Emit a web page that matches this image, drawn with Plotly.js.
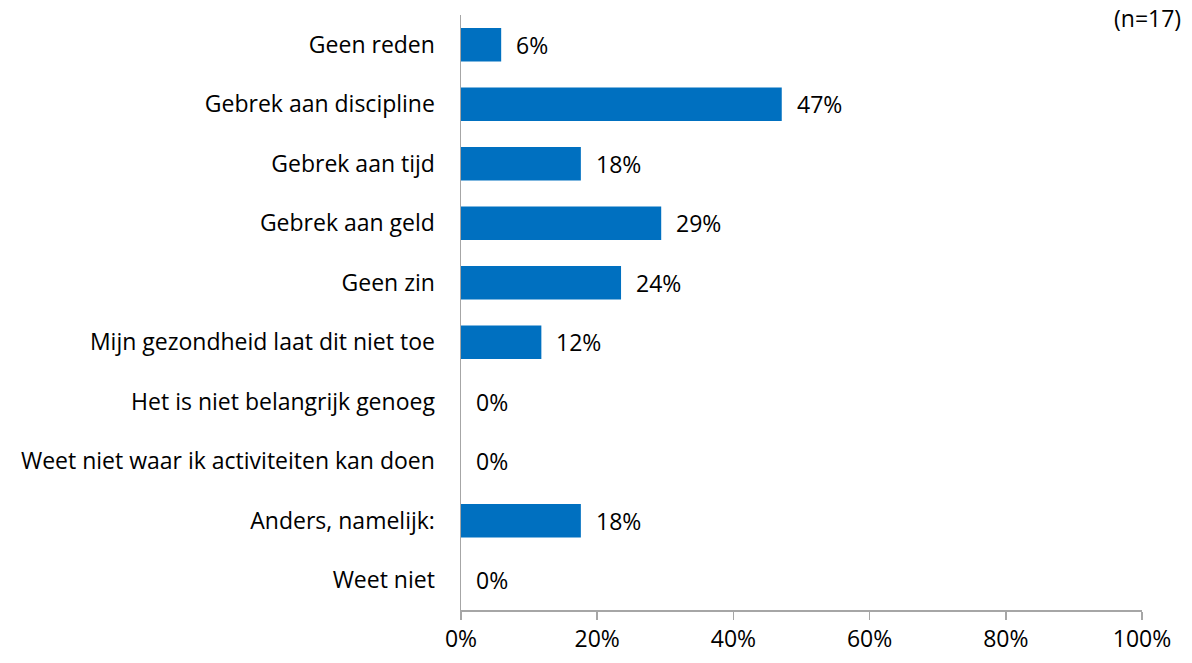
<!DOCTYPE html>
<html>
<head>
<meta charset="utf-8">
<script src="https://cdn.plot.ly/plotly-3.0.1.min.js"></script>
<style>html,body{margin:0;padding:0;background:#fff;}#chart{width:1192px;height:663px;}</style>
</head>
<body>
<div id="chart"></div>
<script>
const categories = [
  "Geen reden",
  "Gebrek aan discipline",
  "Gebrek aan tijd",
  "Gebrek aan geld",
  "Geen zin",
  "Mijn gezondheid laat dit niet toe",
  "Het is niet belangrijk genoeg",
  "Weet niet waar ik activiteiten kan doen",
  "Anders, namelijk:",
  "Weet niet"
];
const values = [0.059, 0.471, 0.176, 0.294, 0.235, 0.118, 0.00, 0.00, 0.176, 0.00];
const labels = ["6%", "47%", "18%", "29%", "24%", "12%", "0%", "0%", "18%", "0%"];
const tickVals = [0, 0.2, 0.4, 0.6, 0.8, 1.0];
const tickText = ["0%", "20%", "40%", "60%", "80%", "100%"];
const sampleNote = "(n=17)";

const FONT = "'Open Sans', sans-serif";
const FS = 23;

const annotations = categories.map((c, i) => ({
  x: values[i], y: c, xref: 'x', yref: 'y',
  text: labels[i], showarrow: false, xanchor: 'left', yanchor: 'middle',
  xshift: 13, font: {family: FONT, size: FS, color: '#000'}
}));
annotations.push({
  x: 1, y: 1, xref: 'paper', yref: 'paper', xanchor: 'right', yanchor: 'bottom',
  text: sampleNote, showarrow: false, xshift: 41, yshift: -21,
  font: {family: FONT, size: FS, color: '#000'}
});

Plotly.newPlot('chart', [{
  type: 'bar', orientation: 'h',
  x: values, y: categories,
  marker: {color: '#0070C0'},
  hoverinfo: 'none'
}], {
  width: 1192, height: 663,
  margin: {l: 461, r: 50, t: 15, b: 53},
  paper_bgcolor: '#fff', plot_bgcolor: '#fff',
  bargap: 0.44,
  showlegend: false,
  font: {family: FONT, size: FS, color: '#000'},
  xaxis: {
    range: [0, 1], tickvals: tickVals, ticktext: tickText,
    showgrid: false, zeroline: false, showline: true, linecolor: '#a6a6a6', linewidth: 1.5,
    ticks: 'outside', ticklen: 8, tickcolor: '#a6a6a6', tickwidth: 1.5,
    tickfont: {family: FONT, size: FS, color: '#000'}, fixedrange: true
  },
  yaxis: {
    autorange: 'reversed', type: 'category',
    showgrid: false, zeroline: false, showline: true, linecolor: '#a6a6a6', linewidth: 1.5,
    ticks: '', ticklabelstandoff: 20,
    tickfont: {family: FONT, size: FS, color: '#000'}, fixedrange: true
  },
  annotations: annotations
}, {displayModeBar: false, staticPlot: true});
</script>
</body>
</html>
